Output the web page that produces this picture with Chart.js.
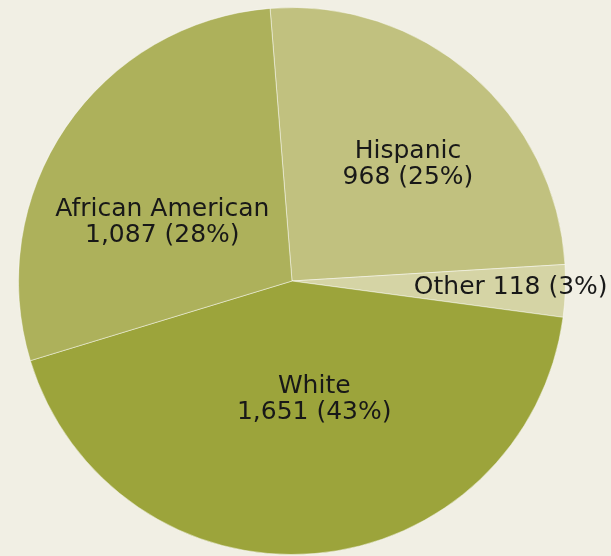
<!DOCTYPE html>
<html lang="en">
<head>
    <meta charset="UTF-8">
    <title>Population by group</title>
    <style>
        html, body {
            margin: 0;
            padding: 0;
            background-color: #f1efe4;
        }
        .wrap {
            position: relative;
            width: 611px;
            height: 556px;
        }
    </style>
    <script src="https://cdn.jsdelivr.net/npm/chart.js"></script>
</head>
<body>
    <div class="wrap">
        <canvas id="pie"></canvas>
    </div>

    <script>
        // data
        const groups = ['Hispanic', 'Other', 'White', 'African American'];
        const counts = [968, 118, 1651, 1087];
        const percents = [25, 3, 43, 28];
        const sliceColors = ['#c1c17f', '#d5d4a5', '#9ca43b', '#adb15b'];

        // label placement: distance (fraction of radius) and angle nudge (deg) from slice middle
        const labelDist = [0.60, 0.80, 0.44, 0.52];
        const labelTurn = [4, -0.5, -6, -10];
        const singleLine = [false, true, false, false];

        const fmt = n => n.toLocaleString('en-US');

        const sliceLabels = {
            id: 'sliceLabels',
            afterDatasetsDraw(chart) {
                const ctx = chart.ctx;
                const meta = chart.getDatasetMeta(0);
                ctx.save();
                ctx.font = '25px "DejaVu Sans", sans-serif';
                ctx.fillStyle = '#181818';
                ctx.textAlign = 'center';
                ctx.textBaseline = 'middle';
                meta.data.forEach((arc, i) => {
                    const p = arc.getProps(['x', 'y', 'startAngle', 'endAngle', 'outerRadius'], true);
                    const mid = (p.startAngle + p.endAngle) / 2 + labelTurn[i] * Math.PI / 180;
                    const r = p.outerRadius * labelDist[i];
                    const cx = p.x + Math.cos(mid) * r;
                    const cy = p.y + Math.sin(mid) * r;
                    const second = fmt(counts[i]) + ' (' + percents[i] + '%)';
                    if (singleLine[i]) {
                        ctx.fillText(groups[i] + ' ' + second, cx, cy);
                    } else {
                        ctx.fillText(groups[i], cx, cy - 13);
                        ctx.fillText(second, cx, cy + 13);
                    }
                });
                ctx.restore();
            }
        };

        new Chart(document.getElementById('pie'), {
            type: 'pie',
            data: {
                labels: groups,
                datasets: [{
                    data: counts,
                    backgroundColor: sliceColors,
                    borderColor: 'rgba(255,255,255,0.45)',
                    borderWidth: 1
                }]
            },
            options: {
                responsive: true,
                maintainAspectRatio: false,
                animation: false,
                rotation: -4.6,
                layout: { padding: { left: 10, right: 37, top: 7, bottom: 1 } },
                plugins: {
                    legend: { display: false },
                    tooltip: { enabled: false }
                }
            },
            plugins: [sliceLabels]
        });
    </script>
</body>
</html>
